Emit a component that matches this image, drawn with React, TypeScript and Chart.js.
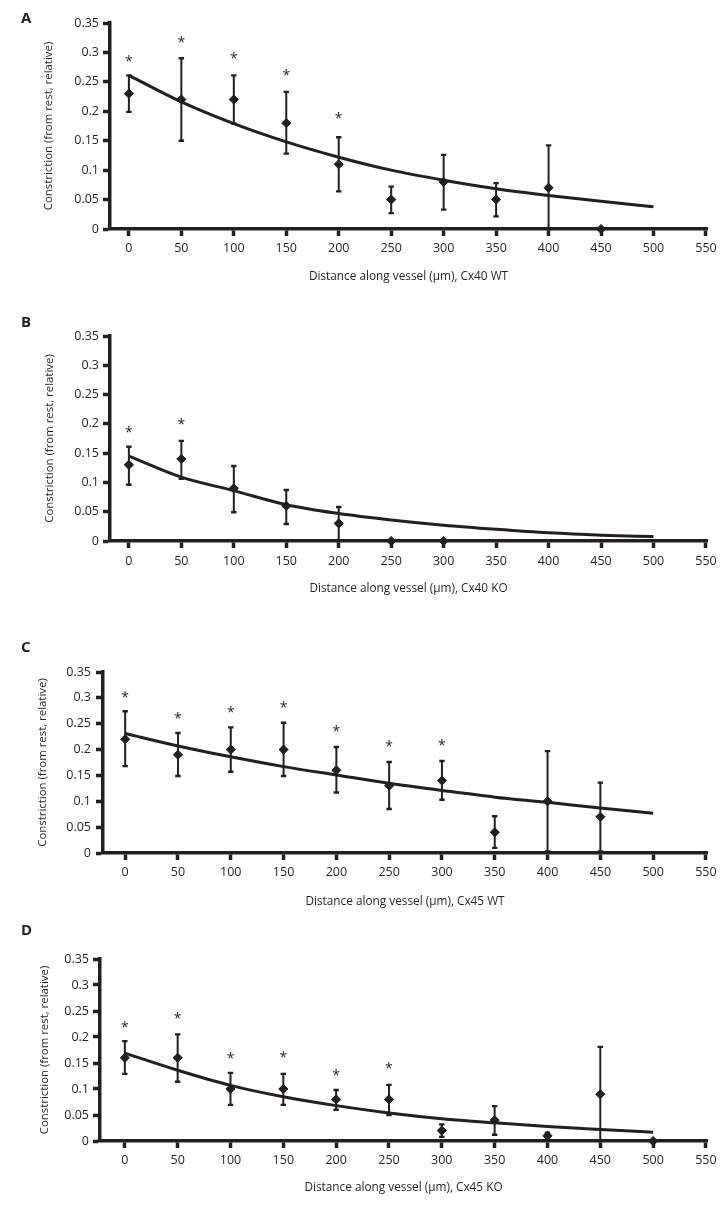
import React, { useEffect, useRef } from 'react';
import { Chart, registerables } from 'chart.js';

Chart.register(...registerables);

// ---------- shared axis values ----------
const xTicks = [0, 50, 100, 150, 200, 250, 300, 350, 400, 450, 500, 550];
const yTicks = [0, 0.05, 0.1, 0.15, 0.2, 0.25, 0.3, 0.35];
const yTickLabels = ['0', '0.05', '0.1', '0.15', '0.2', '0.25', '0.3', '0.35'];
const fitX = [0, 50, 100, 150, 200, 250, 300, 350, 400, 450, 500];

// ---------- Panel A: Cx40 WT ----------
const aX = [0, 50, 100, 150, 200, 250, 300, 350, 400, 450];
const aMean = [0.23, 0.22, 0.22, 0.18, 0.11, 0.05, 0.08, 0.05, 0.07, 0];
const aHigh = [0.261, 0.29, 0.261, 0.233, 0.156, 0.072, 0.126, 0.078, 0.142, null];
const aLow = [0.199, 0.15, 0.179, 0.128, 0.064, 0.027, 0.033, 0.0215, 0, null];
const aStars = [0.289, 0.322, 0.295, 0.266, 0.193, null, null, null, null, null];
const aFit = [0.261, 0.216, 0.179, 0.148, 0.122, 0.1, 0.083, 0.0685, 0.057, 0.047, 0.038];

// ---------- Panel B: Cx40 KO ----------
const bX = [0, 50, 100, 150, 200, 250, 300];
const bMean = [0.13, 0.14, 0.09, 0.06, 0.03, 0, 0];
const bHigh = [0.161, 0.171, 0.128, 0.087, 0.058, null, null];
const bLow = [0.096, 0.106, 0.049, 0.029, 0, null, null];
const bStars = [0.191, 0.204, null, null, null, null, null];
const bFit = [0.145, 0.109, 0.086, 0.062, 0.047, 0.036, 0.027, 0.02, 0.014, 0.01, 0.0075];

// ---------- Panel C: Cx45 WT ----------
const cX = [0, 50, 100, 150, 200, 250, 300, 350, 400, 450];
const cMean = [0.22, 0.19, 0.2, 0.2, 0.16, 0.13, 0.14, 0.04, 0.1, 0.07];
const cHigh = [0.274, 0.232, 0.243, 0.252, 0.205, 0.176, 0.178, 0.071, 0.197, 0.136];
const cLow = [0.168, 0.149, 0.157, 0.149, 0.117, 0.085, 0.103, 0.01, 0.003, 0.003];
const cStars = [0.306, 0.266, 0.278, 0.287, 0.24, 0.212, 0.213, null, null, null];
const cFit = [0.231, 0.207, 0.186, 0.167, 0.151, 0.135, 0.121, 0.108, 0.098, 0.087, 0.077];

// ---------- Panel D: Cx45 KO ----------
const dX = [0, 50, 100, 150, 200, 250, 300, 350, 400, 450, 500];
const dMean = [0.16, 0.16, 0.1, 0.1, 0.08, 0.08, 0.02, 0.04, 0.01, 0.09, 0];
const dHigh = [0.192, 0.205, 0.131, 0.129, 0.098, 0.108, 0.032, 0.067, 0.016, 0.181, null];
const dLow = [0.129, 0.114, 0.0695, 0.0695, 0.06, 0.05, 0.008, 0.012, 0.005, 0, null];
const dStars = [0.225, 0.241, 0.165, 0.166, 0.132, 0.145, null, null, null, null, null];
const dFit = [0.169, 0.136, 0.107, 0.085, 0.068, 0.054, 0.043, 0.035, 0.028, 0.022, 0.017];

const yTitle = 'Constriction (from rest, relative)';

const INK = '#231f20';
const FONT = "'Open Sans', 'DejaVu Sans', sans-serif";
const W = 727;

type PanelDef = {
  letter: string;
  title: string;
  xs: number[];
  mean: number[];
  high: (number | null)[];
  low: (number | null)[];
  stars: (number | null)[];
  fit: number[];
  // layout
  top: number;
  height: number;
  chartTop: number;
  chartBottom: number;
  left: number;
  right: number;
  xMin: number;
  xMax: number;
  yTitleX: number;
  yTickPad: number;
  xTickPad: number;
  xTitleOffset: number;
  letterY: number;
};

const panels: PanelDef[] = [
  {
    letter: 'A', title: 'Distance along vessel (µm), Cx40 WT',
    xs: aX, mean: aMean, high: aHigh, low: aLow, stars: aStars, fit: aFit,
    top: 0, height: 300, chartTop: 23, chartBottom: 229, left: 110, right: 707,
    xMin: -18, xMax: 551, yTitleX: 49, yTickPad: 4, xTickPad: 5, xTitleOffset: 23, letterY: 17,
  },
  {
    letter: 'B', title: 'Distance along vessel (µm), Cx40 KO',
    xs: bX, mean: bMean, high: bHigh, low: bLow, stars: bStars, fit: bFit,
    top: 300, height: 315, chartTop: 36, chartBottom: 241, left: 110, right: 707,
    xMin: -18, xMax: 551, yTitleX: 50, yTickPad: 4, xTickPad: 6, xTitleOffset: 26, letterY: 321,
  },
  {
    letter: 'C', title: 'Distance along vessel (µm), Cx45 WT',
    xs: cX, mean: cMean, high: cHigh, low: cLow, stars: cStars, fit: cFit,
    top: 615, height: 300, chartTop: 57, chartBottom: 238, left: 103, right: 707,
    xMin: -21, xMax: 551, yTitleX: 43, yTickPad: 5, xTickPad: 5, xTitleOffset: 13, letterY: 646,
  },
  {
    letter: 'D', title: 'Distance along vessel (µm), Cx45 KO',
    xs: dX, mean: dMean, high: dHigh, low: dLow, stars: dStars, fit: dFit,
    top: 915, height: 294, chartTop: 44, chartBottom: 226, left: 100, right: 707,
    xMin: -23.5, xMax: 551, yTitleX: 45, yTickPad: 4, xTickPad: 5, xTitleOffset: 21, letterY: 929,
  },
];

function makeExtrasPlugin(p: PanelDef) {
  return {
    id: 'errorBarsAndStars',
    beforeDatasetsDraw(chart: any) {
      const { ctx, scales } = chart;
      const xs = scales.x;
      const ys = scales.y;
      ctx.save();
      ctx.strokeStyle = INK;
      ctx.lineCap = 'butt';
      p.xs.forEach((xv, i) => {
        const hi = p.high[i];
        const lo = p.low[i];
        if (hi == null || lo == null) return;
        const px = xs.getPixelForValue(xv);
        const pHi = ys.getPixelForValue(hi);
        const pLo = ys.getPixelForValue(lo);
        ctx.lineWidth = 2;
        ctx.beginPath();
        ctx.moveTo(px, pHi);
        ctx.lineTo(px, pLo);
        ctx.stroke();
        ctx.lineWidth = 2.4;
        ctx.beginPath();
        ctx.moveTo(px - 2.7, pHi);
        ctx.lineTo(px + 2.7, pHi);
        ctx.moveTo(px - 2.7, pLo);
        ctx.lineTo(px + 2.7, pLo);
        ctx.stroke();
      });
      ctx.restore();
    },
    afterDatasetsDraw(chart: any) {
      const { ctx, scales } = chart;
      ctx.save();
      ctx.fillStyle = INK;
      ctx.font = `14px ${FONT}`;
      ctx.textAlign = 'center';
      ctx.textBaseline = 'alphabetic';
      const m = ctx.measureText('*');
      const shift = (m.actualBoundingBoxAscent - m.actualBoundingBoxDescent) / 2;
      p.xs.forEach((xv, i) => {
        const s = p.stars[i];
        if (s == null) return;
        const px = scales.x.getPixelForValue(xv);
        const py = scales.y.getPixelForValue(s);
        ctx.fillText('*', px, py + shift);
      });
      ctx.restore();
    },
  };
}

function PanelChart({ p }: { p: PanelDef }) {
  const ref = useRef<HTMLCanvasElement | null>(null);
  useEffect(() => {
    if (!ref.current) return;
    const tickFont = { family: FONT, size: 12.5, weight: '500' };
    const titleFont = { family: FONT, size: 11.8, weight: '500' };
    const yTitleFont = { family: FONT, size: 11.4, weight: '500' };
    const chart = new Chart(ref.current, {
      type: 'scatter',
      data: {
        datasets: [
          {
            type: 'line',
            data: fitX.map((x, i) => ({ x, y: p.fit[i] })),
            borderColor: INK,
            borderWidth: 3,
            pointRadius: 0,
            cubicInterpolationMode: 'monotone',
            fill: false,
            clip: false,
            order: 2,
          } as any,
          {
            type: 'scatter',
            data: p.xs.map((x, i) => ({ x, y: p.mean[i] })),
            pointStyle: 'rectRot',
            pointRadius: 4.6,
            backgroundColor: INK,
            borderColor: INK,
            borderWidth: 1,
            clip: false,
            order: 1,
          } as any,
        ],
      },
      options: {
        animation: false,
        responsive: false,
        maintainAspectRatio: false,
        events: [],
        layout: { padding: { top: p.chartTop, left: 0, right: W - p.right, bottom: 0 } },
        plugins: { legend: { display: false }, tooltip: { enabled: false } },
        scales: {
          x: {
            type: 'linear',
            min: p.xMin,
            max: p.xMax,
            afterBuildTicks: (s: any) => {
              s.ticks = xTicks.map((v) => ({ value: v }));
            },
            afterFit: (s: any) => {
              s.height = p.height - p.chartBottom;
            },
            ticks: {
              font: tickFont,
              color: INK,
              padding: p.xTickPad,
              autoSkip: false,
              maxRotation: 0,
              callback: (v: any) => String(v),
            },
            grid: {
              drawOnChartArea: false,
              drawTicks: true,
              tickLength: 7,
              tickWidth: 3.5,
              tickColor: INK,
            },
            border: { display: true, width: 3.5, color: INK },
            title: {
              display: true,
              text: p.title,
              font: titleFont,
              color: INK,
              padding: { top: 0, bottom: p.xTitleOffset - 7 },
            },
          },
          y: {
            type: 'linear',
            min: 0,
            max: 0.35,
            afterBuildTicks: (s: any) => {
              s.ticks = yTicks.map((v) => ({ value: v }));
            },
            afterFit: (s: any) => {
              s.width = p.left;
            },
            ticks: {
              font: tickFont,
              color: INK,
              padding: p.yTickPad,
              callback: (_v: any, idx: number) => yTickLabels[idx],
            },
            grid: {
              drawOnChartArea: false,
              drawTicks: true,
              tickLength: 7,
              tickWidth: 3.5,
              tickColor: INK,
            },
            border: { display: true, width: 3.5, color: INK },
            title: {
              display: true,
              text: yTitle,
              font: yTitleFont,
              color: INK,
              padding: { top: p.yTitleX - 6.8, bottom: 0 },
            },
          },
        },
      } as any,
      plugins: [makeExtrasPlugin(p)],
    });
    return () => chart.destroy();
  }, [p]);

  return (
    <canvas
      ref={ref}
      width={W}
      height={p.height}
      style={{ position: 'absolute', left: 0, top: p.top, width: W, height: p.height }}
    />
  );
}

export default function App() {
  return (
    <div
      style={{
        position: 'absolute',
        left: 0,
        top: 0,
        width: W,
        height: 1209,
        background: '#fff',
        overflow: 'hidden',
      }}
    >
      {panels.map((p) => (
        <PanelChart key={p.letter} p={p} />
      ))}
      {panels.map((p) => (
        <div
          key={'L' + p.letter}
          style={{
            position: 'absolute',
            left: 21,
            top: p.letterY - 9,
            fontFamily: "'Open Sans', 'Liberation Sans', sans-serif",
            fontWeight: 700,
            fontSize: 15,
            lineHeight: '18px',
            color: INK,
          }}
        >
          {p.letter}
        </div>
      ))}
    </div>
  );
}
